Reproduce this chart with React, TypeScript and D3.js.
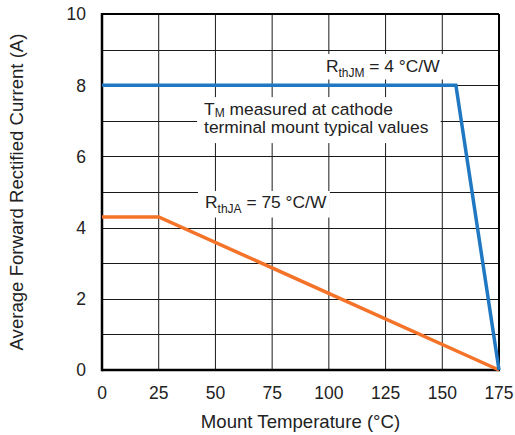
import React, { useEffect, useRef } from 'react';
import * as d3 from 'd3';

// mount temperature (°C) vs average forward rectified current (A)
const mountTemp = [0, 156, 175];
const currentJM = [8, 8, 0];
const ambientTemp = [0, 25, 175];
const currentJA = [4.3, 4.3, 0];

const xTicks = [0, 25, 50, 75, 100, 125, 150, 175];
const yTicks = [0, 2, 4, 6, 8, 10];
const yGrid = [1, 2, 3, 4, 5, 6, 7, 8, 9];

const W = 515;
const H = 435;
const FONT = '"Liberation Sans", Arial, sans-serif';

type NoteLine = { main: string; sub?: string; rest?: string; drop?: number };

export default function App() {
  const svgRef = useRef<SVGSVGElement | null>(null);

  useEffect(() => {
    const svg = d3.select(svgRef.current);
    svg.selectAll('*').remove();

    const x = d3.scaleLinear().domain([0, 175]).range([102, 499]);
    const y = d3.scaleLinear().domain([0, 10]).range([370, 14]);

    // grid
    const grid = svg.append('g').attr('stroke', '#1a1a1a').attr('stroke-width', 1);
    grid
      .selectAll('.vg')
      .data(xTicks.slice(1, -1))
      .join('line')
      .attr('x1', (d) => x(d))
      .attr('x2', (d) => x(d))
      .attr('y1', y(10))
      .attr('y2', y(0));
    grid
      .selectAll('.hg')
      .data(yGrid)
      .join('line')
      .attr('x1', x(0))
      .attr('x2', x(175))
      .attr('y1', (d) => Math.round(y(d)) + 0.5)
      .attr('y2', (d) => Math.round(y(d)) + 0.5);

    // annotations with white boxes behind them
    const boxes = svg.append('g');
    const notes = svg.append('g').attr('font-family', FONT).attr('fill', '#222');

    const addNote = (
      lines: NoteLine[],
      tx: number,
      ty: number,
      lh: number,
      pad: [number, number, number, number],
    ) => {
      let x0 = Infinity;
      let y0 = Infinity;
      let x1 = -Infinity;
      let y1 = -Infinity;
      lines.forEach((l, i) => {
        const t = notes
          .append('text')
          .attr('font-size', 17.4)
          .attr('x', x(tx))
          .attr('y', y(ty) + i * lh);
        t.append('tspan').text(l.main);
        if (l.sub) {
          const drop = l.drop ?? 4.5;
          t.append('tspan').attr('font-size', 12).attr('dy', drop).text(l.sub);
          t.append('tspan').attr('dy', -drop).text(l.rest || '');
        }
        const bb = (t.node() as SVGTextElement).getBBox();
        x0 = Math.min(x0, bb.x);
        y0 = Math.min(y0, bb.y);
        x1 = Math.max(x1, bb.x + bb.width);
        y1 = Math.max(y1, bb.y + bb.height);
      });
      boxes
        .append('rect')
        .attr('x', x0 - pad[3])
        .attr('y', y0 - pad[0])
        .attr('width', x1 - x0 + pad[1] + pad[3])
        .attr('height', y1 - y0 + pad[0] + pad[2])
        .attr('fill', '#fff');
    };

    addNote([{ main: 'R', sub: 'thJM', rest: ' = 4 °C/W' }], 98.7, 8.37, 0, [2, 7, 0, 4]);
    addNote(
      [
        { main: 'T', sub: 'M', rest: ' measured at cathode', drop: 2 },
        { main: 'terminal mount typical values' },
      ],
      45,
      7.16,
      18,
      [2, 12, 6, 7],
    );
    addNote([{ main: 'R', sub: 'thJA', rest: ' = 75 °C/W' }], 45.4, 4.55, 0, [1, 3, 2, 7]);

    // frame (top / right)
    const frame = svg.append('g').attr('stroke', '#000').attr('fill', 'none');
    frame
      .append('line')
      .attr('x1', x(0))
      .attr('x2', x(175))
      .attr('y1', y(10))
      .attr('y2', y(10))
      .attr('stroke-width', 2);
    frame
      .append('line')
      .attr('x1', x(175))
      .attr('x2', x(175))
      .attr('y1', y(10))
      .attr('y2', y(0))
      .attr('stroke-width', 2);

    // series
    const line = d3
      .line<[number, number]>()
      .x((d) => x(d[0]))
      .y((d) => y(d[1]));
    svg
      .append('path')
      .datum(ambientTemp.map((t, i) => [t, currentJA[i]] as [number, number]))
      .attr('d', line)
      .attr('fill', 'none')
      .attr('stroke', '#f47328')
      .attr('stroke-width', 3.5);
    svg
      .append('path')
      .datum(mountTemp.map((t, i) => [t, currentJM[i]] as [number, number]))
      .attr('d', line)
      .attr('fill', 'none')
      .attr('stroke', '#1f78c1')
      .attr('stroke-width', 3.5);

    // frame (left / bottom, heavier)
    frame
      .append('line')
      .attr('x1', x(0))
      .attr('x2', x(0))
      .attr('y1', y(10) - 1)
      .attr('y2', y(0) + 1.25)
      .attr('stroke-width', 2.5);
    frame
      .append('line')
      .attr('x1', x(0))
      .attr('x2', x(175) + 1)
      .attr('y1', y(0))
      .attr('y2', y(0))
      .attr('stroke-width', 2.5);

    // tick labels
    const labels = svg.append('g').attr('font-family', FONT).attr('font-size', 17.5).attr('fill', '#222');
    labels
      .selectAll('.xt')
      .data(xTicks)
      .join('text')
      .attr('x', (d) => x(d))
      .attr('y', 399)
      .attr('text-anchor', 'middle')
      .text((d) => d);
    labels
      .selectAll('.yt')
      .data(yTicks)
      .join('text')
      .attr('x', 86)
      .attr('y', (d) => y(d) + 6.3)
      .attr('text-anchor', 'end')
      .text((d) => d);

    // axis titles
    labels
      .append('text')
      .attr('x', (x(0) + x(175)) / 2)
      .attr('y', 428)
      .attr('text-anchor', 'middle')
      .attr('font-size', 18.6)
      .text('Mount Temperature (°C)');
    labels
      .append('text')
      .attr('transform', `translate(23, ${(y(0) + y(10)) / 2}) rotate(-90)`)
      .attr('text-anchor', 'middle')
      .attr('font-size', 18.6)
      .text('Average Forward Rectified Current (A)');
  }, []);

  return (
    <svg
      ref={svgRef}
      width={W}
      height={H}
      style={{ position: 'absolute', left: 0, top: 0, background: '#fff' }}
    />
  );
}
